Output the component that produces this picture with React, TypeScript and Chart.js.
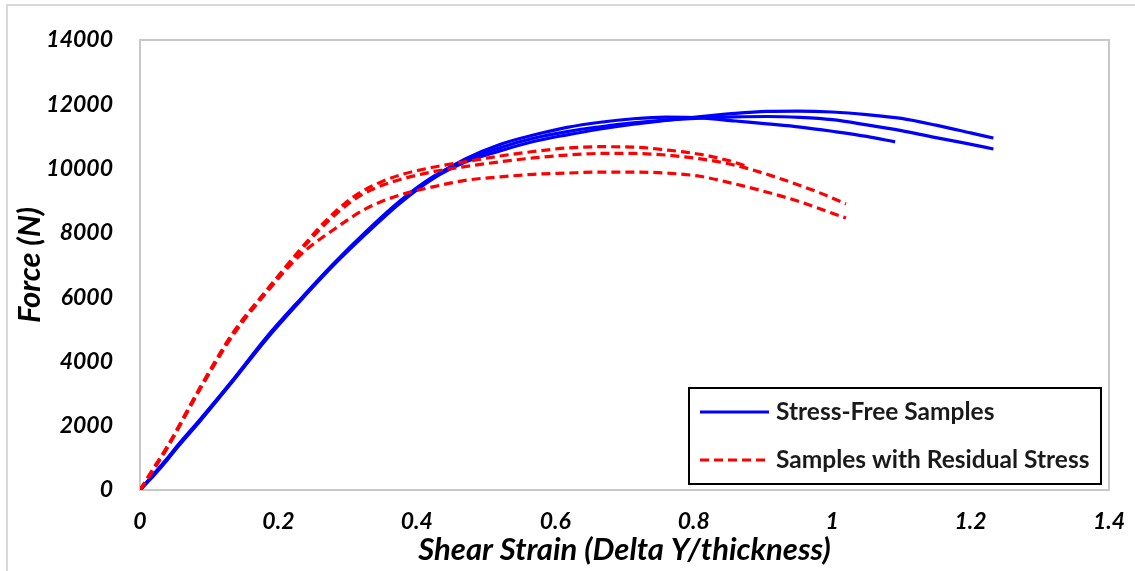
import React, { useEffect, useRef } from 'react';
import { Chart, registerables } from 'chart.js';

Chart.register(...registerables);

// ---- Data ----
const xTickValues = [0, 0.2, 0.4, 0.6, 0.8, 1, 1.2, 1.4];
const xTickLabels = ['0', '0.2', '0.4', '0.6', '0.8', '1', '1.2', '1.4'];
const yTickValues = [0, 2000, 4000, 6000, 8000, 10000, 12000, 14000];
const yTickLabels = ['0', '2000', '4000', '6000', '8000', '10000', '12000', '14000'];

const legendLabels = ['Stress-Free Samples', 'Samples with Residual Stress'];

// Stress-free samples (blue, solid)
const sf1Strain = [0, 0.02, 0.04, 0.053, 0.087, 0.134, 0.183, 0.231, 0.279, 0.328, 0.376, 0.423, 0.47, 0.52, 0.57, 0.617, 0.665, 0.713, 0.76, 0.81, 0.86, 0.906, 0.95, 1.0, 1.05, 1.1, 1.15, 1.2, 1.233];
const sf1Force = [0, 450, 950, 1300, 2150, 3380, 4700, 5870, 6980, 8000, 8930, 9680, 10200, 10550, 10850, 11050, 11230, 11380, 11500, 11620, 11720, 11780, 11790, 11760, 11680, 11560, 11350, 11110, 10950];

const sf2Strain = [0, 0.02, 0.04, 0.053, 0.087, 0.134, 0.183, 0.231, 0.279, 0.328, 0.376, 0.423, 0.47, 0.52, 0.57, 0.617, 0.665, 0.713, 0.76, 0.81, 0.86, 0.906, 0.954, 1.0, 1.05, 1.1, 1.146, 1.19, 1.233];
const sf2Force = [0, 500, 1000, 1350, 2200, 3420, 4760, 5920, 7030, 8070, 9000, 9740, 10250, 10650, 10950, 11150, 11300, 11420, 11510, 11570, 11610, 11620, 11590, 11520, 11360, 11180, 10980, 10800, 10610];

const sf3Strain = [0, 0.02, 0.04, 0.053, 0.087, 0.134, 0.183, 0.231, 0.279, 0.328, 0.376, 0.423, 0.47, 0.52, 0.57, 0.617, 0.665, 0.713, 0.76, 0.81, 0.86, 0.906, 0.954, 1.0, 1.05, 1.091];
const sf3Force = [0, 480, 980, 1320, 2180, 3400, 4730, 5900, 7000, 8040, 8970, 9720, 10300, 10750, 11050, 11280, 11440, 11550, 11600, 11580, 11480, 11390, 11290, 11160, 11000, 10830];

// Samples with residual stress (red, dashed)
const rs1Strain = [0, 0.02, 0.039, 0.087, 0.134, 0.183, 0.231, 0.265, 0.295, 0.32, 0.35, 0.376, 0.423, 0.472, 0.52, 0.568, 0.617, 0.665, 0.713, 0.76, 0.81, 0.85, 0.88];
const rs1Force = [0, 700, 1340, 3200, 4880, 6220, 7470, 8300, 8900, 9280, 9600, 9800, 10040, 10220, 10390, 10530, 10640, 10680, 10670, 10580, 10440, 10250, 10050];

const rs2Strain = [0, 0.02, 0.039, 0.087, 0.134, 0.183, 0.231, 0.265, 0.295, 0.32, 0.35, 0.376, 0.423, 0.472, 0.52, 0.568, 0.617, 0.665, 0.713, 0.76, 0.81, 0.85, 0.88, 0.93, 0.978, 1.02];
const rs2Force = [0, 650, 1300, 3150, 4850, 6200, 7420, 8220, 8800, 9180, 9480, 9660, 9900, 10070, 10210, 10330, 10420, 10470, 10470, 10420, 10300, 10150, 9990, 9650, 9280, 8900];

const rs3Strain = [0, 0.02, 0.039, 0.087, 0.134, 0.183, 0.231, 0.279, 0.328, 0.376, 0.423, 0.472, 0.52, 0.568, 0.617, 0.665, 0.713, 0.76, 0.809, 0.85, 0.9, 0.95, 1.02];
const rs3Force = [0, 650, 1300, 3150, 4800, 6150, 7300, 8090, 8770, 9180, 9430, 9640, 9740, 9820, 9860, 9890, 9890, 9860, 9760, 9570, 9300, 8990, 8460];

const BLUE = '#0000ff';
const RED = '#ff0000';
const FONT = 'Lato, "Open Sans", "Liberation Sans", sans-serif';

const toPoints = (xs: number[], ys: number[]) => xs.map((x, i) => ({ x, y: ys[i] }));

const outerFramePlugin = {
  id: 'outerFrame',
  beforeDraw(chart: any) {
    const { ctx, width, height } = chart;
    ctx.save();
    ctx.fillStyle = '#ffffff';
    ctx.fillRect(0, 0, width, height);
    ctx.strokeStyle = '#d9d9d9';
    ctx.lineWidth = 2;
    ctx.beginPath();
    ctx.moveTo(7, height);
    ctx.lineTo(7, 5);
    ctx.lineTo(width, 5);
    ctx.stroke();
    ctx.restore();
  },
};

const plotFramePlugin = {
  id: 'plotFrame',
  beforeDatasetsDraw(chart: any) {
    const { ctx, chartArea } = chart;
    ctx.save();
    ctx.strokeStyle = '#c8c8c8';
    ctx.lineWidth = 2;
    ctx.strokeRect(chartArea.left, chartArea.top, chartArea.right - chartArea.left, chartArea.bottom - chartArea.top);
    ctx.restore();
  },
};

const boxLegendPlugin = {
  id: 'boxLegend',
  afterDraw(chart: any) {
    const { ctx, chartArea } = chart;
    const w = 412;
    const h = 96;
    const x0 = chartArea.right - 8 - w;
    const y0 = chartArea.bottom - 6 - h;
    ctx.save();
    ctx.fillStyle = '#ffffff';
    ctx.fillRect(x0, y0, w, h);
    ctx.strokeStyle = '#000000';
    ctx.lineWidth = 2;
    ctx.strokeRect(x0, y0, w, h);
    const rows = [
      { label: legendLabels[0], color: BLUE, dash: [] as number[], y: y0 + 24 },
      { label: legendLabels[1], color: RED, dash: [9, 5], y: y0 + 72 },
    ];
    rows.forEach((r) => {
      ctx.strokeStyle = r.color;
      ctx.lineWidth = 3;
      ctx.setLineDash(r.dash);
      ctx.beginPath();
      ctx.moveTo(x0 + 11, r.y);
      ctx.lineTo(x0 + 80, r.y);
      ctx.stroke();
      ctx.setLineDash([]);
      ctx.fillStyle = '#1a1a1a';
      ctx.font = `bold 24.5px ${FONT}`;
      ctx.textAlign = 'left';
      ctx.textBaseline = 'middle';
      ctx.fillText(r.label, x0 + 87, r.y);
    });
    ctx.restore();
  },
};

export default function App() {
  const canvasRef = useRef<HTMLCanvasElement | null>(null);

  useEffect(() => {
    if (!canvasRef.current) return;
    const solid = (xs: number[], ys: number[]) => ({
      data: toPoints(xs, ys),
      borderColor: BLUE,
      backgroundColor: BLUE,
      borderWidth: 3.2,
      showLine: true,
      pointRadius: 0,
      cubicInterpolationMode: 'monotone' as const,
      fill: false,
    });
    const dashed = (xs: number[], ys: number[]) => ({
      data: toPoints(xs, ys),
      borderColor: RED,
      backgroundColor: RED,
      borderWidth: 3.2,
      borderDash: [9, 5],
      showLine: true,
      pointRadius: 0,
      cubicInterpolationMode: 'monotone' as const,
      fill: false,
    });

    const tickFont = { family: FONT, size: 23, weight: 'bold' as const, style: 'italic' as const };
    const titleFont = { family: FONT, size: 31, weight: 'bold' as const, style: 'italic' as const };

    const chart = new Chart(canvasRef.current, {
      type: 'scatter',
      data: {
        datasets: [
          dashed(rs1Strain, rs1Force),
          dashed(rs2Strain, rs2Force),
          dashed(rs3Strain, rs3Force),
          solid(sf1Strain, sf1Force),
          solid(sf2Strain, sf2Force),
          solid(sf3Strain, sf3Force),
        ],
      },
      options: {
        animation: false,
        responsive: true,
        maintainAspectRatio: false,
        layout: { padding: { top: 40, right: 26, left: 0, bottom: 0 } },
        plugins: {
          legend: { display: false },
          tooltip: { enabled: false },
        },
        scales: {
          x: {
            type: 'linear',
            min: 0,
            max: 1.4,
            afterBuildTicks: (s: any) => {
              s.ticks = xTickValues.map((v) => ({ value: v }));
            },
            afterFit: (s: any) => {
              s.height = 81;
              s.paddingLeft = 0;
              s.paddingRight = 0;
            },
            grid: { display: false, drawTicks: false },
            border: { display: false },
            ticks: {
              padding: 18,
              color: '#000000',
              font: tickFont,
              maxRotation: 0,
              autoSkip: false,
              callback: (_v: any, i: number) => xTickLabels[i],
            },
            title: {
              display: true,
              text: 'Shear Strain (Delta Y/thickness)',
              color: '#000000',
              font: titleFont,
              padding: { top: 0, bottom: 2 },
            },
          },
          y: {
            type: 'linear',
            min: 0,
            max: 14000,
            afterBuildTicks: (s: any) => {
              s.ticks = yTickValues.map((v) => ({ value: v }));
            },
            afterFit: (s: any) => {
              s.width = 140;
              s.paddingTop = 0;
              s.paddingBottom = 0;
            },
            grid: { display: false, drawTicks: false },
            border: { display: false },
            ticks: {
              padding: 27,
              color: '#000000',
              font: tickFont,
              autoSkip: false,
              callback: (_v: any, i: number) => yTickLabels[i],
            },
            title: {
              display: true,
              text: 'Force (N)',
              color: '#000000',
              font: titleFont,
              padding: { top: 11, bottom: 0 },
            },
          },
        },
      },
      plugins: [outerFramePlugin, plotFramePlugin, boxLegendPlugin],
    });
    return () => chart.destroy();
  }, []);

  return (
    <div style={{ position: 'absolute', left: 0, top: 0, width: 1135, height: 571 }}>
      <canvas ref={canvasRef} />
    </div>
  );
}
